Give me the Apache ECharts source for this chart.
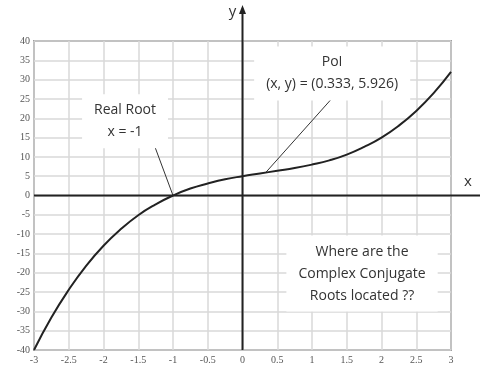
<!DOCTYPE html>
<html>
<head>
<meta charset="utf-8">
<script src="https://cdn.jsdelivr.net/npm/echarts@6/dist/echarts.min.js"></script>
<style>
  html, body { margin: 0; padding: 0; background: #fff; }
  #chart { width: 480px; height: 368px; }
</style>
</head>
<body>
<div id="chart"></div>
<script>
// curve points
const xValues = [-3, -2.75, -2.5, -2.25, -2, -1.75, -1.5, -1.25, -1, -0.75, -0.5, -0.25,
  0, 0.25, 0.5, 0.75, 1, 1.25, 1.5, 1.75, 2, 2.25, 2.5, 2.75, 3];
const yValues = [-40, -31.6, -24.4, -18.2, -13, -8.7, -5.1, -2.3, 0, 1.8, 3.1, 4.2,
  5, 5.7, 6.4, 7.1, 8, 9.1, 10.6, 12.6, 15, 18.1, 21.9, 26.5, 32];

// annotation anchors in data units
const noteTexts = ["Real Root\nx = -1", "PoI\n(x, y) = (0.333, 5.926)", "Where are the\nComplex Conjugate\nRoots located ??"];
const noteCenters = [[-1.69, 19.2], [1.29, 31.6], [1.72, -20.2]];
const leaderFrom = [[-1.32, 15.5], [1.3, 25.4]];
const leaderTo = [[-1, 0], [0.333, 5.926]];

const chart = echarts.init(document.getElementById("chart"));

const tickFont = { color: "#555", fontFamily: "Liberation Serif", fontSize: 10 };
const noteFont = "Open Sans";

chart.setOption({
  animation: false,
  grid: { left: 34, right: 29, top: 41, bottom: 18, show: true, borderColor: "#555", borderWidth: 1.5 },
  xAxis: {
    type: "value", min: -3, max: 3, interval: 0.5,
    axisLine: { show: false }, axisTick: { show: false },
    axisLabel: { ...tickFont, margin: 5 },
    splitLine: { lineStyle: { color: "#d9d9d9", width: 1.5 } },
  },
  yAxis: {
    type: "value", min: -40, max: 40, interval: 5,
    axisLine: { show: false }, axisTick: { show: false },
    axisLabel: { ...tickFont, margin: 4 },
    splitLine: { lineStyle: { color: "#d9d9d9", width: 1.5 } },
  },
  series: [{
    type: "line",
    data: xValues.map((x, i) => [x, yValues[i]]),
    smooth: true,
    showSymbol: false,
    lineStyle: { color: "#222", width: 2 },
    z: 5,
    markLine: {
      silent: true,
      symbol: "none",
      lineStyle: { color: "#333", width: 1, type: "solid" },
      label: { show: false },
      data: leaderFrom.map((p, i) => [{ coord: p }, { coord: leaderTo[i] }]),
    },
    markPoint: {
      silent: true,
      symbol: "rect",
      symbolSize: 0,
      data: noteTexts.map((t, i) => ({
        coord: noteCenters[i],
        label: {
          show: true, position: "inside", formatter: t,
          color: "#333", fontFamily: noteFont, fontSize: 14, lineHeight: 22,
          align: "center", verticalAlign: "middle",
          backgroundColor: "#fff", padding: [5, 12],
        },
      })),
    },
  }],
});

// main axes through the origin, running past the plot box
const origin = chart.convertToPixel({ gridIndex: 0 }, [0, 0]);
const bottomLeft = chart.convertToPixel({ gridIndex: 0 }, [-3, -40]);
chart.setOption({
  graphic: [
    { type: "line", z: 10, shape: { x1: bottomLeft[0], y1: origin[1], x2: 480, y2: origin[1] },
      style: { stroke: "#222", lineWidth: 2 } },
    { type: "line", z: 10, shape: { x1: origin[0], y1: bottomLeft[1], x2: origin[0], y2: 10 },
      style: { stroke: "#222", lineWidth: 2 } },
    { type: "polygon", z: 10, shape: { points: [[origin[0], 5], [origin[0] - 3.5, 14], [origin[0] + 3.5, 14]] },
      style: { fill: "#222" } },
    { type: "text", z: 10, x: origin[0] - 10, y: 12,
      style: { text: "y", fill: "#333", font: "15px " + noteFont, align: "center", verticalAlign: "middle" } },
    { type: "text", z: 10, x: 468, y: origin[1] - 14,
      style: { text: "x", fill: "#333", font: "15px " + noteFont, align: "center", verticalAlign: "middle" } },
  ],
});
</script>
</body>
</html>
